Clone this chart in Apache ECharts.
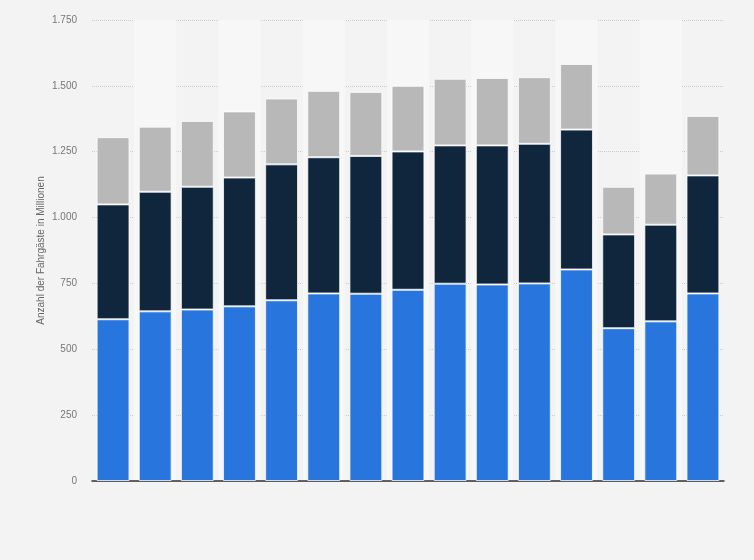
<!DOCTYPE html>
<html>
<head>
<meta charset="utf-8">
<script src="https://cdn.jsdelivr.net/npm/echarts@6/dist/echarts.min.js"></script>
<style>
  html, body { margin: 0; padding: 0; background: #f3f3f3; }
  #chart { width: 754px; height: 560px; }
</style>
</head>
<body>
<div id="chart"></div>
<script>
// years (axis labels are hidden in the original)
const years = ['2008', '2009', '2010', '2011', '2012', '2013', '2014', '2015',
               '2016', '2017', '2018', '2019', '2020', '2021', '2022'];

// stacked segments (millions)
const blueVals = [614, 644, 651, 663, 686, 712, 711, 726, 749, 746, 750, 803, 580, 606, 712];
const darkVals = [436, 454, 466, 489, 516, 517, 523, 525, 525, 528, 530, 531, 356, 367, 448];
const grayVals = [255, 247, 250, 251, 250, 252, 243, 249, 253, 256, 253, 249, 181, 194, 226];

const yTicks = { min: 0, max: 1750, interval: 250 };

var chartDom = document.getElementById('chart');
var myChart = echarts.init(chartDom);

function fmt(v) {
    return String(v).replace(/\B(?=(\d{3})+(?!\d))/g, '.');
}

var segStyle = function (color) {
    return {
        color: color,
        borderColor: 'rgba(255,255,255,0.75)',
        borderWidth: 1
    };
};

var option = {
    backgroundColor: '#f3f3f3',
    animation: false,
    grid: {
        left: 92,
        right: 30,
        top: 20,
        bottom: 79
    },
    xAxis: {
        type: 'category',
        data: years,
        axisLabel: { show: false },
        axisTick: { show: false },
        axisLine: { lineStyle: { color: '#333', width: 1.5 } },
        splitArea: {
            show: true,
            areaStyle: { color: ['rgba(0,0,0,0)', '#f7f7f7'] }
        }
    },
    yAxis: {
        type: 'value',
        min: yTicks.min,
        max: yTicks.max,
        interval: yTicks.interval,
        name: 'Anzahl der Fahrgäste in Millionen',
        nameLocation: 'middle',
        nameGap: 46,
        nameMoveOverlap: false,
        nameTextStyle: { color: '#666', fontSize: 10, fontFamily: 'Arial, Liberation Sans, sans-serif' },
        axisLine: { show: false },
        axisTick: { show: false },
        axisLabel: {
            color: '#777',
            fontSize: 10,
            margin: 15,
            fontFamily: 'Arial, Liberation Sans, sans-serif',
            formatter: fmt
        },
        splitLine: { lineStyle: { color: '#cccccc', type: [1, 1], width: 1 } }
    },
    series: [
        {
            name: 'Segment 1',
            type: 'bar',
            stack: 'total',
            barCategoryGap: '22%',
            itemStyle: segStyle('#2876dd'),
            data: blueVals
        },
        {
            name: 'Segment 2',
            type: 'bar',
            stack: 'total',
            itemStyle: segStyle('#10263d'),
            data: darkVals
        },
        {
            name: 'Segment 3',
            type: 'bar',
            stack: 'total',
            itemStyle: segStyle('#b8b8b8'),
            data: grayVals
        }
    ]
};

myChart.setOption(option);
</script>
</body>
</html>
